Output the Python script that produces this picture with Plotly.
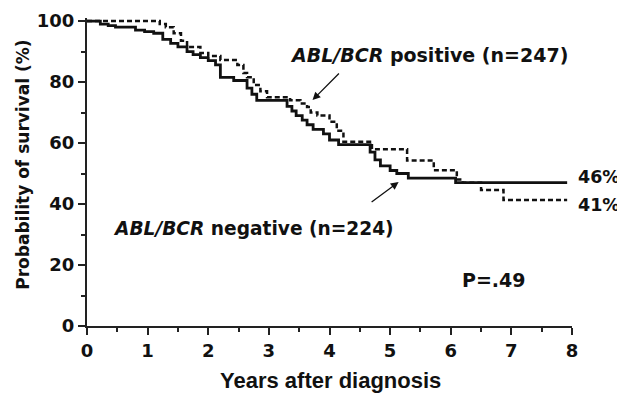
import plotly.graph_objects as go

# Kaplan-Meier step data
neg_years = [0, 0.22, 0.35, 0.47, 0.8, 0.95, 1.1, 1.25, 1.38, 1.5, 1.65, 1.75, 1.87, 2.0, 2.12, 2.2,
             2.42, 2.64, 2.72, 2.8, 3.3, 3.38, 3.45, 3.55, 3.63, 3.73, 3.9, 4.0, 4.15, 4.67, 4.75,
             4.84, 5.0, 5.11, 5.3, 6.08, 7.92]
neg_surv = [100, 99, 98.5, 98, 97, 96.5, 96, 94, 92.7, 91.5, 90, 89, 88, 87, 85.6, 81.5,
            80.5, 78, 76, 74, 72, 70.5, 69, 67.5, 66, 64.5, 63, 61, 59.5, 57, 54.5,
            52.5, 51, 50, 48.5, 47, 47]

pos_years = [0, 1.2, 1.3, 1.43, 1.55, 1.65, 1.87, 2.0, 2.2, 2.48, 2.58, 2.64, 2.75, 2.86, 2.97,
             3.35, 3.52, 3.63, 3.69, 3.8, 4.0, 4.12, 4.23, 4.7, 5.28, 5.72, 6.1, 6.2, 6.5, 6.87, 7.92]
pos_surv = [100, 99, 98, 96, 93.5, 91.5, 89.5, 88.5, 87.2, 85.6, 83, 81.6, 79, 77, 75,
            74, 73, 71.8, 70, 69, 67, 64, 60.4, 58, 54.3, 51.1, 48, 47, 44.6, 41.3, 41.3]

x_ticks = [0, 1, 2, 3, 4, 5, 6, 7, 8]
y_ticks = [0, 20, 40, 60, 80, 100]

WIDE = "DejaVu Sans, sans-serif"
NARROW = "Liberation Sans, Arial, sans-serif"
INK = "#111"

fig = go.Figure()
fig.add_trace(go.Scatter(x=pos_years, y=pos_surv, mode="lines", line_shape="hv",
                         line=dict(color=INK, width=2.5, dash="5px,3px"), showlegend=False))
fig.add_trace(go.Scatter(x=neg_years, y=neg_surv, mode="lines", line_shape="hv",
                         line=dict(color=INK, width=2.8), showlegend=False))

ann_font = dict(family=WIDE, size=19, color=INK, weight="bold")
pct_font = dict(family=WIDE, size=17.5, color=INK, weight="bold")
annotations = [
    dict(x=3.32, y=88.9, text="<i>ABL/BCR</i> positive (n=247)", showarrow=False,
         xanchor="left", yanchor="middle", font=ann_font),
    dict(x=0.39, y=32.1, text="<i>ABL/BCR</i> negative (n=224)", showarrow=False,
         xanchor="left", yanchor="middle", font=dict(family=WIDE, size=18.6, color=INK, weight="bold")),
    dict(x=6.72, y=15.1, text="P=.49", showarrow=False, xanchor="center", yanchor="middle",
         font=ann_font),
    dict(x=1.009, xref="paper", y=48.9, text="46%", showarrow=False, xanchor="left",
         yanchor="middle", font=pct_font),
    dict(x=1.009, xref="paper", y=39.7, text="41%", showarrow=False, xanchor="left",
         yanchor="middle", font=pct_font),
    dict(x=3.72, y=74.1, ax=4.18, ay=83.3, axref="x", ayref="y", text="", showarrow=True,
         arrowhead=2, arrowsize=1.2, arrowwidth=1.3, arrowcolor=INK),
    dict(x=5.14, y=47.2, ax=4.67, ay=40.3, axref="x", ayref="y", text="", showarrow=True,
         arrowhead=2, arrowsize=1.2, arrowwidth=1.3, arrowcolor=INK),
    # axis titles
    dict(x=-0.131, xref="paper", y=0.525, yref="paper", text="Probability of survival (%)",
         textangle=-90, showarrow=False, xanchor="center", yanchor="middle",
         font=dict(family=WIDE, size=17, color=INK, weight="bold")),
    dict(x=0.503, xref="paper", y=-0.13, yref="paper", text="Years after diagnosis",
         showarrow=False, xanchor="center", yanchor="top",
         font=dict(family=NARROW, size=22, color=INK, weight="bold")),
]

axis_common = dict(showgrid=False, zeroline=False, showline=True, linecolor="#222", linewidth=2,
                   ticks="outside", ticklen=7, tickwidth=2, tickcolor="#222", automargin=False,
                   tickfont=dict(family=WIDE, size=18, color=INK, weight="bold"))

# the page body has an 8px margin, so the figure is sized to fit the 625x393 window
fig.update_layout(
    width=617, height=385,
    margin=dict(l=79, r=53, t=10, b=67),
    paper_bgcolor="white", plot_bgcolor="white",
    font=dict(family=WIDE, size=17, color=INK),
    annotations=annotations,
    xaxis=dict(range=[0, 8], tickvals=x_ticks,
               minor=dict(dtick=0.5, ticks="outside", ticklen=4, tickwidth=2, tickcolor="#222"),
               **axis_common),
    yaxis=dict(range=[0, 101], tickvals=y_ticks,
               minor=dict(dtick=10, ticks="outside", ticklen=4, tickwidth=2, tickcolor="#222"),
               **axis_common),
)

fig.write_html("out.html")
